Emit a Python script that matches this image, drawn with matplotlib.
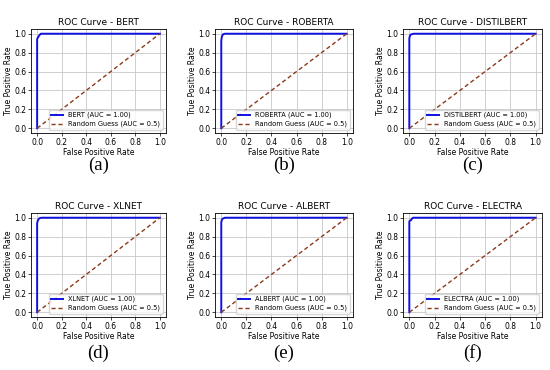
import matplotlib.pyplot as plt

models = ["BERT", "ROBERTA", "DISTILBERT", "XLNET", "ALBERT", "ELECTRA"]
panel_tags = ["(a)", "(b)", "(c)", "(d)", "(e)", "(f)"]
auc_values = [1.00, 1.00, 1.00, 1.00, 1.00, 1.00]

# roc points
fpr_bert = [0.0, 0.0, 0.005, 0.01, 0.015, 0.03, 1.0]
tpr_bert = [0.0, 0.94, 0.96, 0.965, 0.98, 1.0, 1.0]
fpr_roberta = [0.0, 0.0, 0.003, 0.008, 0.015, 0.03, 1.0]
tpr_roberta = [0.0, 0.92, 0.96, 0.98, 0.995, 1.0, 1.0]
fpr_distil = [0.0, 0.0, 0.004, 0.01, 0.02, 0.035, 1.0]
tpr_distil = [0.0, 0.95, 0.975, 0.99, 0.995, 1.0, 1.0]
fpr_xlnet = [0.0, 0.0, 0.005, 0.012, 0.02, 0.035, 1.0]
tpr_xlnet = [0.0, 0.94, 0.97, 0.985, 0.995, 1.0, 1.0]
fpr_albert = [0.0, 0.0, 0.004, 0.01, 0.02, 0.03, 1.0]
tpr_albert = [0.0, 0.95, 0.975, 0.99, 0.995, 1.0, 1.0]
fpr_electra = [0.0, 0.0, 0.005, 0.015, 0.02, 0.03, 1.0]
tpr_electra = [0.0, 0.96, 0.97, 0.975, 0.99, 1.0, 1.0]

fprs = [fpr_bert, fpr_roberta, fpr_distil, fpr_xlnet, fpr_albert, fpr_electra]
tprs = [tpr_bert, tpr_roberta, tpr_distil, tpr_xlnet, tpr_albert, tpr_electra]

W, H = 550, 370
fig = plt.figure(figsize=(W / 100, H / 100), dpi=100, facecolor="white")

# axes boxes in pixels: left, top, right, bottom
boxes = [
    (31, 29, 166, 133), (215, 29, 353, 133), (403, 29, 542, 133),
    (31, 213, 166, 317), (215, 213, 353, 317), (403, 213, 542, 317),
]
tag_y = [165, 165, 165, 353, 353, 353]

for i, name in enumerate(models):
    l, t, r, b = boxes[i]
    ax = fig.add_axes([l / W, 1 - b / H, (r - l) / W, (b - t) / H])
    ax.plot(fprs[i], tprs[i], color="#1010e0", lw=1.4,
            label=f"{name} (AUC = {auc_values[i]:.2f})")
    ax.plot([0, 1], [0, 1], color="#8b3a1a", lw=1.0, linestyle=(0, (3, 2)),
            label="Random Guess (AUC = 0.5)")
    ax.set_title(f"ROC Curve - {name}", fontsize=6.5, pad=3)
    ax.set_xlabel("False Positive Rate", fontsize=5.5, labelpad=1)
    ax.set_ylabel("True Positive Rate", fontsize=5.5, labelpad=1)
    ax.tick_params(labelsize=5.5, length=2, width=0.5, pad=1.5)
    ax.set_xticks([0, 0.2, 0.4, 0.6, 0.8, 1.0])
    ax.set_yticks([0, 0.2, 0.4, 0.6, 0.8, 1.0])
    ax.grid(True, color="#c8c8c8", lw=0.6)
    for s in ax.spines.values():
        s.set_linewidth(0.6)
    ax.legend(loc="lower right", fontsize=4.8, handlelength=1.8,
              borderpad=0.35, labelspacing=0.35, framealpha=0.8)
    cx = (l + r) / 2 / W
    fig.text(cx, 1 - tag_y[i] / H, panel_tags[i], ha="center", va="center",
             fontsize=13.5, family="Liberation Serif")

fig.savefig("out.png", dpi=100)
